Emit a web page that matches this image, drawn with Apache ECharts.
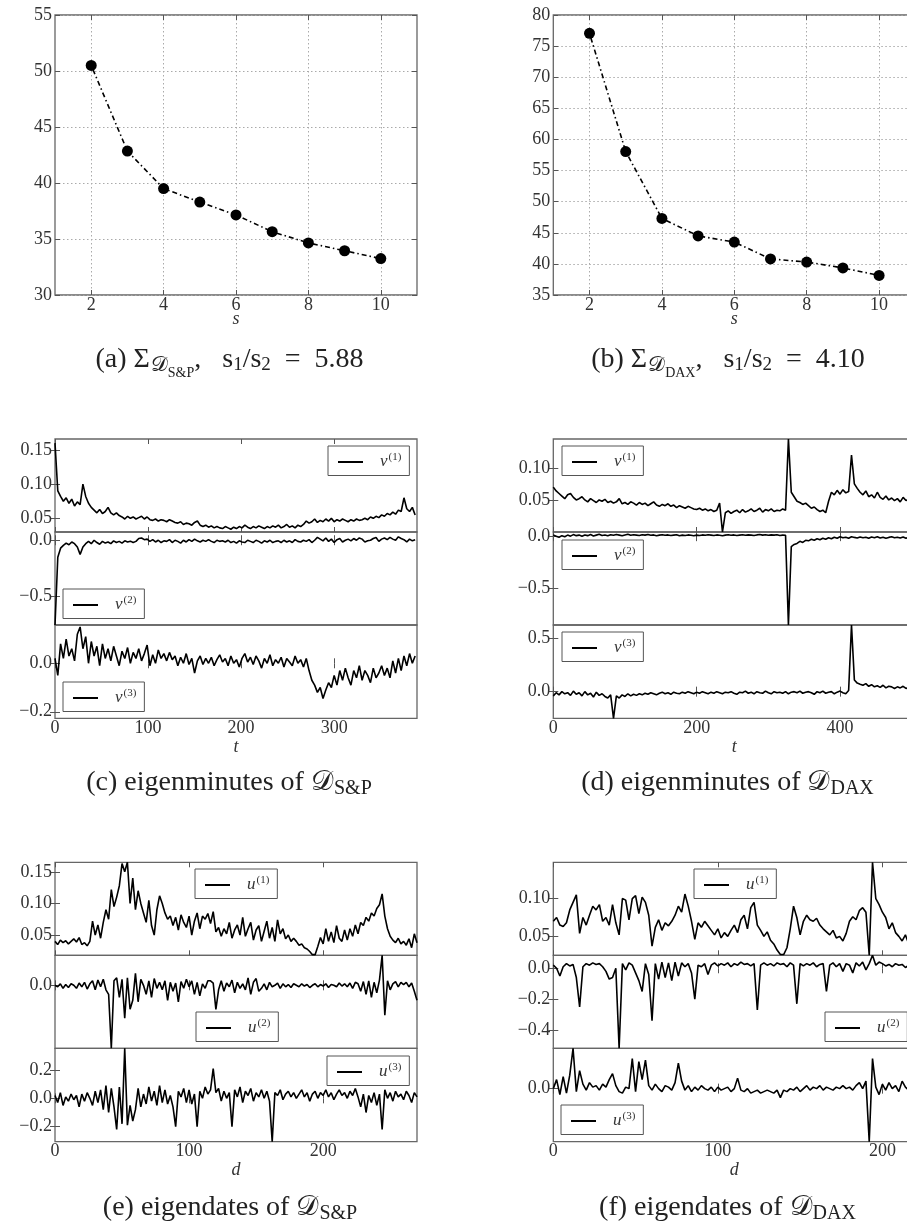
<!DOCTYPE html>
<html><head><meta charset="utf-8">
<script src="https://cdn.jsdelivr.net/npm/echarts@6/dist/echarts.min.js"></script>
<style>html,body{margin:0;padding:0;background:#fff}#c{width:907px;height:1221px}</style>
</head><body><div id="c"></div><script>
// ---------------- DATA ----------------
const sValues = [2,3,4,5,6,7,8,9,10];
const sigmaSP  = [50.5,42.85,39.5,38.3,37.15,35.65,34.65,33.95,33.25];
const sigmaDAX = [77.05,58.05,47.3,44.5,43.5,40.8,40.3,39.35,38.15];

const sTicks = [2,4,6,8,10];
const ticksA = [30,35,40,45,50,55];
const ticksB = [35,40,45,50,55,60,65,70,75,80];
const tTicksSP = [0,100,200,300];
const tTicksDAX = [0,200,400];
const dTicksSP = [0,100,200];
const dTicksDAX = [0,100,200];
const ticksC1 = [0.05,0.10,0.15], ticksC2 = [-0.5,0.0], ticksC3 = [-0.2,0.0];
const ticksD1 = [0.05,0.10], ticksD2 = [-0.5,0.0], ticksD3 = [0.0,0.5];
const ticksE1 = [0.05,0.10,0.15], ticksE2 = [0.0], ticksE3 = [-0.2,0.0,0.2];
const ticksF1 = [0.05,0.10], ticksF2 = [-0.4,-0.2,0.0], ticksF3 = [0.0];

// eigenminutes S&P (t step 3)
const stepMinSP = 3;
const v1SP = [0.160,0.090,0.082,0.075,0.080,0.072,0.078,0.068,0.074,0.070,
0.100,0.082,0.072,0.066,0.062,0.058,0.063,0.057,0.060,0.066,
0.058,0.055,0.058,0.054,0.052,0.049,0.053,0.050,0.052,0.049,
0.051,0.053,0.049,0.052,0.048,0.047,0.049,0.046,0.048,0.047,
0.045,0.048,0.046,0.044,0.043,0.045,0.041,0.043,0.042,0.040,
0.044,0.046,0.040,0.038,0.040,0.037,0.039,0.036,0.038,0.036,
0.035,0.038,0.036,0.034,0.037,0.035,0.038,0.036,0.040,0.037,
0.035,0.038,0.036,0.039,0.037,0.035,0.038,0.036,0.039,0.037,
0.040,0.036,0.038,0.041,0.037,0.039,0.036,0.040,0.038,0.041,
0.046,0.043,0.045,0.049,0.044,0.047,0.045,0.049,0.046,0.050,
0.045,0.048,0.046,0.049,0.047,0.045,0.048,0.046,0.049,0.047,
0.048,0.050,0.048,0.052,0.050,0.053,0.051,0.055,0.053,0.057,
0.055,0.059,0.056,0.062,0.060,0.080,0.064,0.060,0.066,0.055];
const v2SP = [-0.750,-0.150,-0.070,-0.045,-0.025,-0.040,-0.015,-0.030,-0.060,-0.125,
-0.060,-0.030,-0.010,-0.030,0.000,-0.020,-0.035,-0.010,-0.025,-0.015,
-0.030,-0.005,-0.020,-0.010,-0.025,-0.005,-0.015,-0.008,-0.020,-0.010,
0.015,0.020,0.005,0.010,-0.010,0.005,-0.015,0.000,-0.020,-0.005,
-0.010,0.005,-0.020,0.000,-0.010,-0.025,0.000,-0.015,0.005,-0.010,
0.010,-0.005,-0.015,0.000,-0.010,0.005,-0.010,-0.020,0.000,-0.010,
-0.005,-0.015,0.000,-0.020,-0.010,-0.025,-0.005,-0.015,-0.020,0.000,
-0.010,-0.020,0.000,-0.010,-0.025,-0.005,-0.015,0.000,-0.020,-0.010,
-0.005,-0.020,0.000,-0.015,-0.005,-0.020,0.005,-0.010,-0.015,0.000,
-0.010,0.005,-0.020,0.000,0.025,0.010,-0.005,0.020,-0.010,0.010,
-0.020,0.005,0.015,-0.015,0.000,0.010,-0.005,0.015,0.000,0.020,
0.010,-0.015,-0.005,0.000,0.015,0.025,-0.010,0.010,0.020,0.005,
0.025,0.010,0.000,0.030,0.015,0.005,-0.015,0.010,-0.005,0.005];
const v3SP = [0.020,-0.050,0.080,0.020,0.100,0.030,0.060,0.010,0.120,0.150,
0.060,0.110,0.000,0.090,0.030,0.070,-0.010,0.080,0.020,0.060,
0.010,0.070,0.030,-0.010,0.050,0.020,0.065,0.000,0.045,0.020,
0.060,0.010,0.040,0.075,-0.010,0.035,0.000,0.055,0.020,0.040,
0.010,0.045,0.015,0.030,-0.010,0.025,0.000,0.040,-0.005,0.020,
-0.040,0.010,0.030,-0.005,0.020,0.000,0.025,-0.010,0.015,0.035,
0.005,0.020,-0.010,0.030,0.000,0.015,-0.015,0.020,0.040,0.005,
0.025,-0.005,0.030,0.010,-0.020,0.020,0.000,0.035,-0.010,0.015,
0.000,0.025,-0.015,0.020,0.005,-0.010,0.030,0.000,0.015,-0.015,
0.020,-0.030,-0.070,-0.090,-0.120,-0.100,-0.145,-0.110,-0.080,-0.100,
-0.050,-0.090,-0.030,-0.070,-0.020,-0.060,-0.090,-0.030,-0.060,-0.010,
-0.070,-0.030,-0.050,-0.080,-0.020,-0.060,-0.040,-0.010,-0.050,-0.020,
-0.060,0.010,-0.040,0.020,-0.030,0.030,-0.010,0.040,0.000,0.030];

// eigenminutes DAX (t step 4)
const stepMinDAX = 4;
const v1DAX = [0.070,0.064,0.060,0.056,0.052,0.058,0.060,0.054,0.050,0.052,
0.055,0.050,0.047,0.052,0.049,0.046,0.050,0.048,0.051,0.046,
0.048,0.045,0.047,0.052,0.044,0.046,0.043,0.047,0.045,0.042,
0.046,0.043,0.045,0.041,0.044,0.047,0.042,0.040,0.043,0.041,
0.044,0.040,0.042,0.038,0.041,0.039,0.037,0.040,0.038,0.036,
0.035,0.037,0.034,0.036,0.033,0.035,0.032,0.034,0.045,0.000,
0.030,0.033,0.029,0.032,0.034,0.030,0.035,0.031,0.033,0.036,
0.032,0.034,0.037,0.031,0.035,0.033,0.036,0.032,0.034,0.033,
0.036,0.034,0.145,0.062,0.055,0.048,0.046,0.043,0.045,0.041,
0.037,0.039,0.035,0.032,0.034,0.030,0.048,0.062,0.058,0.065,
0.059,0.066,0.061,0.063,0.120,0.075,0.068,0.062,0.058,0.064,
0.055,0.058,0.053,0.062,0.054,0.051,0.056,0.050,0.053,0.049,
0.052,0.047,0.054,0.049,0.051,0.046,0.050];
const v2DAX = [0.010,0.000,-0.010,0.005,-0.005,0.010,0.000,0.015,0.005,0.010,
0.000,0.012,0.005,0.015,0.002,0.010,0.018,0.006,0.012,0.004,
0.014,0.008,0.016,0.010,0.004,0.012,0.018,0.008,0.014,0.010,
0.006,0.014,0.010,0.016,0.008,0.012,0.004,0.010,0.014,0.008,
0.012,0.006,0.010,0.014,0.004,0.010,0.006,0.012,0.008,0.004,
0.010,0.006,0.012,0.008,0.014,0.010,0.006,0.012,0.008,0.004,
0.010,0.014,0.008,0.012,0.006,0.010,0.014,0.008,0.012,0.010,
0.006,0.012,0.016,0.010,0.014,0.008,0.012,0.010,0.014,0.006,
0.010,0.008,-0.855,-0.100,-0.080,-0.070,-0.050,-0.060,-0.040,-0.045,
-0.030,-0.040,-0.025,-0.035,-0.020,-0.030,-0.015,-0.025,-0.010,-0.020,
-0.005,-0.015,-0.010,-0.020,-0.005,-0.012,-0.018,-0.008,-0.015,-0.010,
-0.020,-0.008,-0.015,-0.005,-0.018,-0.010,-0.020,-0.012,-0.006,-0.015,
-0.010,-0.018,-0.008,-0.020,-0.012,-0.016,-0.010];
const v3DAX = [-0.040,-0.010,-0.030,0.000,-0.020,-0.010,-0.035,0.005,-0.025,-0.010,
-0.040,0.000,-0.030,-0.015,-0.050,-0.005,-0.035,-0.020,-0.045,-0.060,
-0.030,-0.250,-0.040,-0.060,-0.030,-0.045,-0.020,-0.040,-0.025,-0.035,
-0.020,-0.030,-0.015,-0.025,-0.010,-0.020,-0.030,-0.015,-0.005,-0.020,
-0.010,-0.025,-0.005,-0.015,-0.020,-0.005,-0.015,0.000,-0.010,-0.020,
-0.005,-0.015,0.000,-0.010,-0.020,-0.005,-0.015,0.000,-0.010,-0.020,
-0.005,-0.010,0.000,-0.015,-0.025,-0.005,-0.010,0.005,-0.015,-0.005,
-0.020,0.000,-0.010,-0.015,0.005,-0.010,-0.020,0.000,-0.010,-0.005,
-0.015,0.000,-0.020,-0.005,0.000,-0.010,0.005,-0.015,-0.005,0.000,
-0.010,-0.025,0.000,-0.010,0.005,-0.015,-0.005,0.000,-0.020,-0.005,
0.005,-0.010,-0.020,0.010,0.625,0.110,0.080,0.070,0.060,0.075,
0.050,0.065,0.045,0.055,0.040,0.060,0.035,0.050,0.045,0.030,
0.045,0.035,0.050,0.030,0.040,0.045,0.035];

// eigendates S&P (d step 2)
const stepDaySP = 2;
const u1SP = [0.040,0.035,0.042,0.038,0.041,0.036,0.040,0.044,0.039,0.046,
0.035,0.038,0.033,0.040,0.072,0.050,0.066,0.045,0.070,0.090,
0.075,0.122,0.095,0.110,0.128,0.163,0.150,0.165,0.100,0.140,
0.090,0.120,0.100,0.085,0.070,0.105,0.065,0.050,0.090,0.112,
0.100,0.085,0.075,0.080,0.065,0.078,0.058,0.082,0.070,0.062,
0.080,0.050,0.072,0.085,0.060,0.080,0.075,0.084,0.068,0.087,
0.055,0.062,0.048,0.060,0.052,0.070,0.045,0.058,0.066,0.050,
0.078,0.048,0.060,0.070,0.042,0.058,0.065,0.040,0.056,0.072,
0.045,0.062,0.040,0.074,0.052,0.060,0.044,0.050,0.040,0.045,
0.040,0.034,0.036,0.030,0.028,0.024,0.019,0.019,0.032,0.046,
0.036,0.060,0.040,0.055,0.038,0.065,0.045,0.040,0.058,0.042,
0.060,0.048,0.066,0.052,0.070,0.065,0.078,0.072,0.085,0.080,
0.092,0.098,0.115,0.080,0.060,0.048,0.042,0.038,0.045,0.036,
0.040,0.034,0.044,0.030,0.052,0.038];
const u2SP = [0.000,-0.010,0.010,-0.020,0.005,-0.015,0.010,0.000,-0.020,0.015,
-0.010,0.020,-0.025,0.010,0.030,-0.030,0.035,-0.010,0.040,-0.030,
-0.060,-0.420,0.030,0.050,-0.080,0.040,-0.220,0.050,-0.160,-0.100,
0.080,-0.110,0.040,0.000,-0.060,0.030,-0.080,0.045,-0.020,0.020,
-0.030,0.030,-0.100,0.020,-0.040,0.015,-0.110,0.025,-0.020,0.040,
-0.010,0.030,-0.060,0.020,-0.070,0.010,-0.020,0.030,0.030,0.015,
-0.160,-0.030,0.030,-0.040,0.015,-0.010,0.035,-0.050,0.020,-0.020,
0.010,-0.030,0.050,-0.060,0.020,0.045,-0.040,-0.020,0.010,-0.030,
0.020,-0.010,0.000,0.015,-0.020,0.010,-0.010,0.005,-0.015,0.010,
0.000,-0.010,0.010,-0.005,0.005,-0.015,0.000,0.010,-0.010,0.005,
-0.005,0.010,-0.015,0.005,0.000,-0.010,0.015,-0.005,0.010,-0.010,
0.015,-0.020,0.020,0.010,-0.040,0.025,-0.060,0.030,-0.080,0.020,
-0.050,0.035,0.200,-0.200,0.030,-0.030,0.010,0.025,-0.010,0.020,
0.005,0.020,-0.010,0.015,-0.040,-0.100];
const u3SP = [0.020,-0.030,0.040,-0.050,0.010,-0.020,0.030,-0.010,0.020,-0.060,
0.030,-0.020,0.040,0.000,-0.050,0.050,-0.030,0.060,-0.080,0.090,
-0.100,0.070,-0.060,-0.220,0.080,-0.180,0.353,-0.190,-0.050,-0.160,
-0.080,0.070,-0.060,0.030,-0.040,0.080,-0.020,0.050,-0.050,0.090,
-0.030,0.060,-0.040,0.020,-0.060,-0.200,0.050,0.010,0.070,-0.030,
0.060,-0.040,0.030,-0.200,0.050,0.000,0.080,0.030,0.060,0.210,
0.040,0.070,-0.020,0.050,0.000,0.040,-0.200,0.060,0.010,0.080,
-0.030,0.050,0.020,0.070,-0.020,0.040,0.010,0.060,0.000,0.050,
-0.020,-0.306,0.040,0.020,0.060,-0.010,0.030,0.050,0.010,0.040,
0.000,0.030,0.060,0.010,0.040,-0.020,0.030,0.050,0.000,0.040,
0.020,0.060,0.010,0.040,-0.010,0.030,0.060,0.020,0.040,0.000,
0.050,0.020,0.070,0.010,-0.060,0.030,-0.100,0.020,-0.030,0.040,
-0.050,0.030,-0.220,0.060,0.000,0.040,-0.020,0.050,0.010,0.030,
-0.010,0.050,0.020,-0.030,0.040,0.010];

// eigendates DAX (d step 2)
const stepDayDAX = 2;
const u1DAX = [0.070,0.075,0.065,0.063,0.068,0.085,0.095,0.105,0.054,0.075,
0.065,0.078,0.090,0.085,0.092,0.070,0.075,0.065,0.092,0.068,
0.052,0.100,0.098,0.072,0.100,0.104,0.080,0.102,0.095,0.078,
0.037,0.062,0.072,0.058,0.068,0.064,0.070,0.078,0.090,0.082,
0.106,0.090,0.070,0.046,0.068,0.062,0.070,0.064,0.058,0.052,
0.060,0.048,0.055,0.050,0.058,0.065,0.055,0.072,0.078,0.060,
0.088,0.095,0.065,0.058,0.050,0.056,0.045,0.040,0.032,0.026,
0.026,0.035,0.060,0.090,0.075,0.052,0.070,0.078,0.072,0.070,
0.074,0.065,0.060,0.056,0.052,0.058,0.048,0.050,0.044,0.054,
0.070,0.076,0.072,0.084,0.088,0.082,0.025,0.148,0.100,0.092,
0.082,0.075,0.060,0.068,0.055,0.050,0.044,0.052,0.040,0.046,
0.050];
const u2DAX = [0.020,0.000,-0.050,0.010,0.030,0.015,0.025,-0.060,-0.250,0.010,
0.030,0.020,0.035,0.025,0.030,0.010,-0.020,-0.070,-0.060,0.000,
-0.518,0.030,-0.010,0.035,0.020,-0.030,-0.080,-0.150,0.030,-0.040,
-0.340,0.030,-0.070,0.040,-0.060,0.035,-0.080,0.040,-0.050,0.035,
0.010,0.030,-0.030,-0.200,0.020,0.010,0.030,-0.040,0.020,0.035,
0.015,0.030,0.020,0.035,0.010,0.030,0.020,0.040,0.025,0.030,
0.015,0.030,-0.270,0.020,0.035,0.020,0.030,0.015,0.035,0.025,
0.030,0.010,0.035,0.020,-0.230,0.030,0.015,0.030,0.020,0.035,
0.010,0.025,0.030,-0.150,0.020,0.035,0.010,0.030,-0.020,0.030,
0.020,-0.030,0.035,0.015,0.040,-0.010,0.030,0.084,0.020,0.040,
0.030,0.015,0.025,0.010,0.030,0.020,0.025,0.005,0.020,0.030,
0.010];
const u3DAX = [0.000,0.060,-0.040,0.080,-0.030,0.090,0.269,-0.020,0.120,0.030,
-0.010,0.040,0.010,0.020,-0.010,0.030,0.010,0.060,0.100,0.020,
-0.020,-0.030,0.010,0.000,0.200,-0.020,0.180,0.060,0.190,0.020,
-0.010,0.030,0.000,-0.020,0.020,0.010,-0.010,0.040,0.170,0.050,
-0.010,0.020,-0.020,0.010,-0.010,0.020,0.000,-0.010,0.010,-0.020,
0.010,-0.010,0.000,0.010,-0.020,0.000,0.070,-0.010,-0.020,0.000,
-0.030,-0.020,-0.010,-0.030,-0.020,-0.010,-0.020,-0.030,-0.010,-0.060,
-0.010,-0.020,0.000,-0.010,0.010,-0.020,0.000,0.020,-0.010,0.010,
0.000,0.020,-0.010,0.010,0.000,-0.010,0.010,0.000,0.020,0.000,
0.010,-0.010,0.020,0.040,0.000,0.050,-0.354,0.200,0.010,-0.040,
0.030,-0.010,0.040,0.000,0.020,-0.020,0.050,0.010,-0.010,0.020,
0.000];

// ---------------- LAYOUT / STYLE ----------------
const FONT = 'Liberation Serif';
const LABCOL = '#333';
const LINECOL = '#000';
const P = [
 {L:55, T:15, W:362, H:280, x:[1,11], xt:sTicks, y:[30,55], yt:ticksA, dec:0, grid:true, lab:true, name:'s', gap:15, noMove:true},
 {L:553.3, T:15, W:362, H:280, x:[1,11], xt:sTicks, y:[35,80], yt:ticksB, dec:0, grid:true, lab:true, name:'s', gap:15, noMove:true},
 {L:55, T:439, W:362, H:93, x:[0,389], xt:tTicksSP, y:[0.03,0.166], yt:ticksC1, dec:2},
 {L:55, T:532, W:362, H:93, x:[0,389], xt:tTicksSP, y:[-0.75,0.073], yt:ticksC2, dec:1},
 {L:55, T:625, W:362, H:93.3, x:[0,389], xt:tTicksSP, y:[-0.227,0.158], yt:ticksC3, dec:1, lab:true, name:'t', gap:14},
 {L:553.3, T:439, W:362, H:93, x:[0,505], xt:tTicksDAX, y:[0,0.145], yt:ticksD1, dec:2},
 {L:553.3, T:532, W:362, H:93, x:[0,505], xt:tTicksDAX, y:[-0.855,0.04], yt:ticksD2, dec:1},
 {L:553.3, T:625, W:362, H:93.3, x:[0,505], xt:tTicksDAX, y:[-0.25,0.625], yt:ticksD3, dec:1, lab:true, name:'t', gap:14},
 {L:55, T:862.3, W:362, H:93, x:[0,270], xt:dTicksSP, y:[0.018,0.165], yt:ticksE1, dec:2},
 {L:55, T:955.3, W:362, H:93, x:[0,270], xt:dTicksSP, y:[-0.42,0.2], yt:ticksE2, dec:1},
 {L:55, T:1048.3, W:362, H:93.4, x:[0,270], xt:dTicksSP, y:[-0.306,0.353], yt:ticksE3, dec:1, lab:true, name:'d', gap:17},
 {L:553.3, T:862.3, W:362, H:93, x:[0,220], xt:dTicksDAX, y:[0.025,0.148], yt:ticksF1, dec:2},
 {L:553.3, T:955.3, W:362, H:93, x:[0,220], xt:dTicksDAX, y:[-0.518,0.084], yt:ticksF2, dec:1},
 {L:553.3, T:1048.3, W:362, H:93.4, x:[0,220], xt:dTicksDAX, y:[-0.354,0.269], yt:ticksF3, dec:1, lab:true, name:'d', gap:17}
];
const S = [
 {p:2, vals:v1SP, step:stepMinSP, sym:'v', k:1, lg:[328,446]},
 {p:3, vals:v2SP, step:stepMinSP, sym:'v', k:2, lg:[63,589]},
 {p:4, vals:v3SP, step:stepMinSP, sym:'v', k:3, lg:[63,682]},
 {p:5, vals:v1DAX, step:stepMinDAX, sym:'v', k:1, lg:[562,446]},
 {p:6, vals:v2DAX, step:stepMinDAX, sym:'v', k:2, lg:[562,540]},
 {p:7, vals:v3DAX, step:stepMinDAX, sym:'v', k:3, lg:[562,632]},
 {p:8, vals:u1SP, step:stepDaySP, sym:'u', k:1, lg:[195,869]},
 {p:9, vals:u2SP, step:stepDaySP, sym:'u', k:2, lg:[196,1012]},
 {p:10, vals:u3SP, step:stepDaySP, sym:'u', k:3, lg:[327,1056]},
 {p:11, vals:u1DAX, step:stepDayDAX, sym:'u', k:1, lg:[694,869]},
 {p:12, vals:u2DAX, step:stepDayDAX, sym:'u', k:2, lg:[825,1012]},
 {p:13, vals:u3DAX, step:stepDayDAX, sym:'u', k:3, lg:[561,1105]}
];
const fmt = d => v => (v < 0 ? '\u2212' : '') + Math.abs(v).toFixed(d);
const tick = {show:true, inside:true, length:5, lineStyle:{color:'#555', width:1}};

const grids = [], xAxes = [], yAxes = [], series = [], legends = [];
P.forEach((p, i) => {
  grids.push({left:p.L, top:p.T, width:p.W, height:p.H, show:true, borderColor:'#666', borderWidth:1.3,
              backgroundColor:'rgba(0,0,0,0)', containLabel:false, outerBoundsMode:'none'});
  const split = {show:!!p.grid, lineStyle:{color:'#aaa', width:1, type:[1.5,2.5]}};
  const xa = {gridIndex:i, type:'value', position:'bottom', min:p.x[0], max:p.x[1],
    axisLine:{show:false}, axisTick:Object.assign({customValues:p.xt}, tick),
    splitLine:split,
    axisLabel:{show:!!p.lab, customValues:p.xt, margin:1, color:LABCOL, fontFamily:FONT, fontSize:18},
    name:p.name || '', nameLocation:'middle', nameGap:p.gap || 0,
    nameTextStyle:{fontFamily:FONT, fontStyle:'italic', fontSize:18, color:LABCOL}};
  if (p.noMove) xa.nameMoveOverlap = false;
  xAxes.push(xa);
  xAxes.push({gridIndex:i, type:'value', position:'top', min:p.x[0], max:p.x[1],
    axisLine:{show:false}, axisTick:Object.assign({customValues:p.xt}, tick),
    splitLine:{show:false}, axisLabel:{show:false}});
  yAxes.push({gridIndex:i, type:'value', position:'left', min:p.y[0], max:p.y[1],
    axisLine:{show:false}, axisTick:Object.assign({customValues:p.yt}, tick),
    splitLine:split,
    axisLabel:{show:true, customValues:p.yt, formatter:fmt(p.dec), margin:3, color:LABCOL, fontFamily:FONT, fontSize:18}});
  yAxes.push({gridIndex:i, type:'value', position:'right', min:p.y[0], max:p.y[1],
    axisLine:{show:false}, axisTick:Object.assign({customValues:p.yt}, tick),
    splitLine:{show:false}, axisLabel:{show:false}});
});

[[0, sigmaSP], [1, sigmaDAX]].forEach(([pi, vals]) => {
  series.push({type:'line', xAxisIndex:2*pi, yAxisIndex:2*pi, data:sValues.map((s, j) => [s, vals[j]]),
    symbol:'circle', symbolSize:11, itemStyle:{color:'#000'},
    lineStyle:{color:'#000', width:1.6, type:[1.5,3,5,3]}, z:3});
});

S.forEach((s, n) => {
  const name = 'ser' + n;
  series.push({type:'line', name:name, xAxisIndex:2*s.p, yAxisIndex:2*s.p,
    data:s.vals.map((v, j) => [j * s.step, v]), symbol:'none',
    lineStyle:{color:LINECOL, width:1.6}, itemStyle:{color:LINECOL}, z:3});
  legends.push({data:[{name:name, icon:'rect'}], left:s.lg[0], top:s.lg[1], orient:'horizontal', selectedMode:false,
    backgroundColor:'#fff', borderColor:'#555', borderWidth:1, borderRadius:0,
    padding:[6,8,5,10], itemWidth:25, itemHeight:2, z:6,
    itemStyle:{color:'#000', borderWidth:0},
    formatter:() => '{g|}{i|' + s.sym + '}{s|(' + s.k + ')}',
    textStyle:{rich:{
      g:{width:12},
      i:{fontFamily:FONT, fontStyle:'italic', fontSize:17, color:LABCOL},
      s:{fontFamily:FONT, fontSize:11, color:LABCOL, padding:[0,0,9,1]}}}});
});

const capRich = {
  D:{fontFamily:FONT, fontSize:21, fill:'#222', padding:[11,0,0,1]},
  ss:{fontFamily:FONT, fontSize:14, fill:'#222', padding:[26,0,0,0]},
  n:{fontFamily:FONT, fontSize:19, fill:'#222', padding:[11,0,0,0]},
  sub:{fontFamily:FONT, fontSize:20, fill:'#222', padding:[11,0,0,1]},
  t:{fontFamily:FONT, fontSize:28, fill:'#222'}
};
const captions = [
 {x:229.5, y:360, text:'{t|(a) Σ}{D|𝒟}{ss|S&P}{t|,   s}{n|1}{t|/s}{n|2}{t|  =  5.88}'},
 {x:728, y:360, text:'{t|(b) Σ}{D|𝒟}{ss|DAX}{t|,   s}{n|1}{t|/s}{n|2}{t|  =  4.10}'},
 {x:229, y:783, text:'{t|(c) eigenminutes of 𝒟}{sub|S&P}'},
 {x:727.5, y:783, text:'{t|(d) eigenminutes of 𝒟}{sub|DAX}'},
 {x:230, y:1208, text:'{t|(e) eigendates of 𝒟}{sub|S&P}'},
 {x:727.5, y:1208, text:'{t|(f) eigendates of 𝒟}{sub|DAX}'}
];

const chart = echarts.init(document.getElementById('c'), null, {renderer:'canvas'});
chart.setOption({
  animation:false, backgroundColor:'#fff',
  grid:grids, xAxis:xAxes, yAxis:yAxes, series:series, legend:legends,
  graphic:captions.map(c => ({type:'text', x:c.x, y:c.y, z:10,
    style:{text:c.text, rich:capRich, align:'center', verticalAlign:'middle', fontFamily:FONT, fontSize:28, fill:'#222'}}))
});
</script></body></html>
